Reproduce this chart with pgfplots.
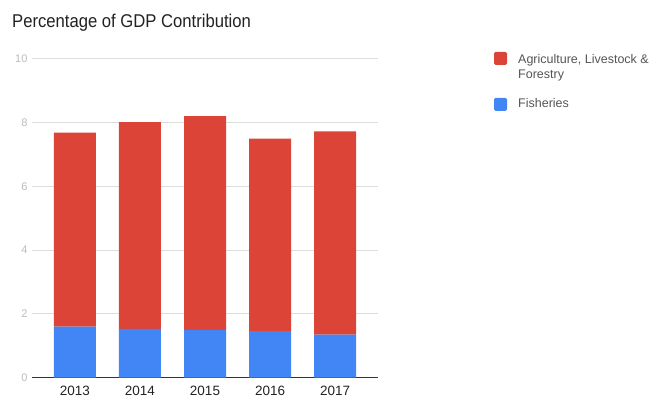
\documentclass[border=0pt]{standalone}
\usepackage{pgfplots}
\pgfplotsset{compat=1.18}
\usepackage{fontspec}
\setmainfont{Liberation Sans}
\newfontfamily\titlefont[FakeStretch=0.9]{Liberation Sans}
\definecolor{agri}{HTML}{DB4437}
\definecolor{fish}{HTML}{4285F4}
\definecolor{gridc}{HTML}{DDDDDD}
\definecolor{ticklab}{HTML}{BBBBBB}
\definecolor{xlab}{HTML}{222222}
\definecolor{legtxt}{HTML}{555555}
\definecolor{axc}{HTML}{333333}
\begin{document}
\begin{tikzpicture}[x=1pt,y=1pt]
\path[use as bounding box] (0,0) rectangle (651,398);
\node[anchor=base west, inner sep=0, text=xlab, font=\titlefont\fontsize{18.5}{20}\selectfont] at (12,370) {Percentage of GDP Contribution};
\begin{axis}[
  at={(32pt,20.3pt)}, anchor=south west,
  width=346pt, height=318.7pt, scale only axis,
  ybar stacked, bar width=42pt,
  xmin=-0.66, xmax=4.66, ymin=0, ymax=10,
  enlargelimits=false,
  xtick=data, xticklabels={2013,2014,2015,2016,2017},
  ytick={0,2,...,10},
  ymajorgrids, grid style={gridc, line width=1pt},
  axis x line*=bottom, axis y line*=left,
  x axis line style={draw=none},
  y axis line style={draw=none},
  major tick length=0pt,
  yticklabel style={font=\fontsize{11}{11}\selectfont, text=ticklab, xshift=-1pt},
  xticklabel style={font=\fontsize{13.5}{13.5}\selectfont, text=xlab, yshift=-5pt},
  /pgf/number format/assume math mode=true,
]
\addplot[fill=fish, draw=none] coordinates {(0,1.60) (1,1.53) (2,1.50) (3,1.46) (4,1.35)};
\addplot[fill=agri, draw=none] coordinates {(0,6.09) (1,6.49) (2,6.71) (3,6.04) (4,6.38)};
\draw[axc, line width=1.3pt] (rel axis cs:0,0) -- (rel axis cs:1,0);
\end{axis}
\fill[agri, rounded corners=1.5pt] (494,333) rectangle (507,346);
\fill[fish, rounded corners=1.5pt] (494,287) rectangle (507,300);
\node[anchor=base west, inner sep=0, text=legtxt, font=\fontsize{12.5}{15}\selectfont] at (518,334) {Agriculture, Livestock \&};
\node[anchor=base west, inner sep=0, text=legtxt, font=\fontsize{12.5}{15}\selectfont] at (518,319) {Forestry};
\node[anchor=base west, inner sep=0, text=legtxt, font=\fontsize{12.5}{15}\selectfont] at (518,290) {Fisheries};
\end{tikzpicture}
\end{document}
